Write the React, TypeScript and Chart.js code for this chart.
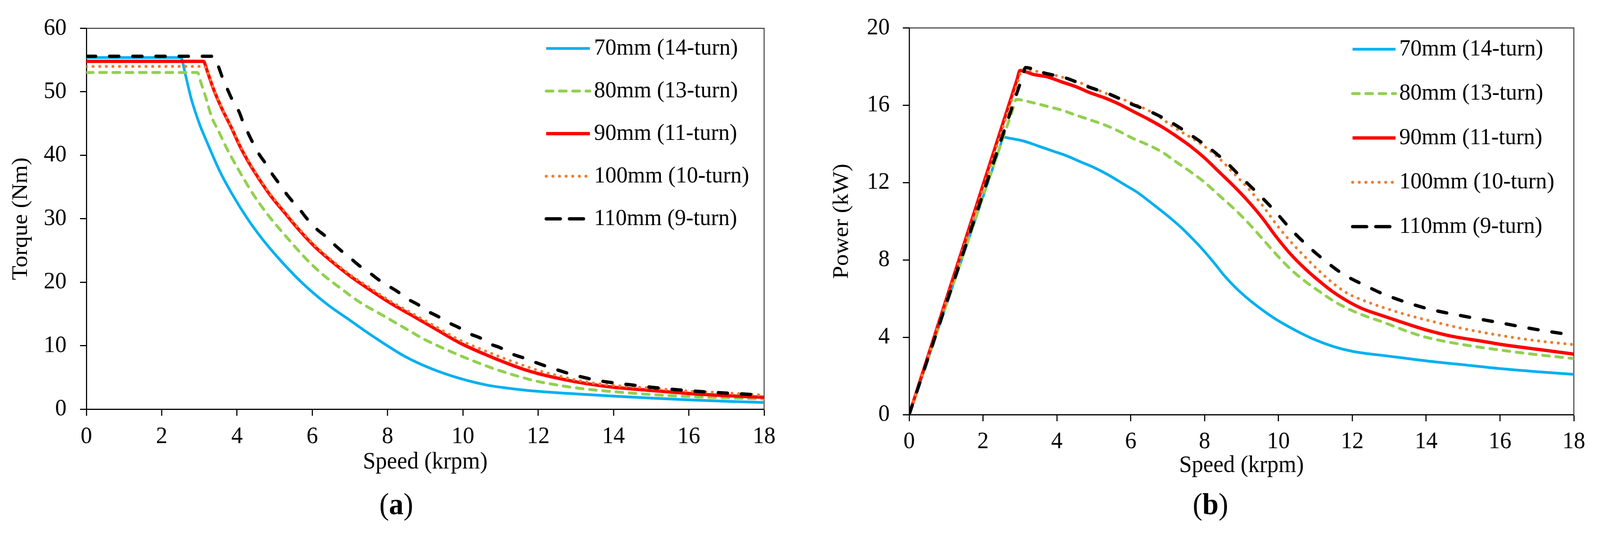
import React, { useEffect, useRef } from "react";
import { Chart, registerables } from "chart.js";

Chart.register(...registerables);

const FONT = "'Liberation Serif', 'Times New Roman', serif";
const FIG_W = 4280;
const FIG_H = 1364;

const seriesLabels = [
  "70mm (14-turn)",
  "80mm (13-turn)",
  "90mm (11-turn)",
  "100mm (10-turn)",
  "110mm (9-turn)",
];

// torque (Nm) vs speed (krpm)
const torque70 = [[0, 55.4], [2.51, 55.4], [2.63, 52.7], [2.79, 48.8], [3.01, 44.85], [3.23, 41.7], [3.55, 37.4], [3.87, 33.9], [4.28, 30.0], [4.66, 26.9], [5.1, 23.8], [5.73, 19.9], [6.4, 16.5], [7.0, 14.0], [7.63, 11.4], [8.46, 8.3], [9.15, 6.4], [9.91, 4.85], [10.67, 3.75], [11.2, 3.3], [11.6, 3.02], [12, 2.8], [13, 2.4], [14, 2.05], [15, 1.74], [16, 1.46], [17, 1.23], [18, 1.05]];
const torque80 = [[0, 53.05], [2.95, 53.05], [3.04, 51.5], [3.17, 49.15], [3.33, 46.0], [3.52, 43.7], [3.71, 41.3], [3.9, 39.2], [4.15, 36.6], [4.47, 33.5], [4.85, 30.4], [5.29, 27.3], [5.8, 23.9], [6.24, 21.4], [6.75, 19.05], [7.25, 16.9], [7.82, 14.95], [8.39, 13.0], [8.96, 11.05], [9.59, 9.3], [10.23, 7.7], [10.86, 6.3], [11.6, 4.95], [12, 4.35], [12.5, 3.8], [13, 3.35], [13.59, 2.96], [14, 2.75], [15, 2.3], [16, 1.98], [17, 1.78], [18, 1.6]];
const torque90 = [[0, 54.8], [3.11, 54.8], [3.2, 53.45], [3.36, 50.7], [3.58, 47.6], [3.84, 44.5], [4.09, 41.3], [4.34, 38.6], [4.59, 36.25], [4.91, 33.5], [5.23, 31.2], [5.61, 28.5], [6.05, 25.7], [6.49, 23.4], [7.0, 21.0], [7.51, 18.9], [8.08, 16.7], [8.65, 14.76], [9.28, 12.6], [9.91, 10.46], [10.54, 8.75], [11.18, 7.2], [11.6, 6.3], [12, 5.6], [12.5, 4.9], [13, 4.3], [13.59, 3.75], [14, 3.45], [15, 2.94], [16, 2.47], [17, 2.12], [18, 1.86]];
const torque100 = [[0, 54.0], [3.13, 54.0], [3.2, 53.4], [3.36, 50.8], [3.58, 47.7], [3.84, 44.6], [4.09, 41.5], [4.34, 38.8], [4.59, 36.4], [4.91, 33.7], [5.23, 31.4], [5.61, 28.7], [6.05, 25.9], [6.49, 23.6], [7.0, 21.2], [7.51, 19.2], [8.08, 17.0], [8.65, 15.1], [9.28, 13.0], [9.91, 10.9], [10.54, 9.3], [11.18, 7.8], [11.6, 6.9], [12, 6.1], [12.5, 5.3], [13, 4.6], [13.59, 4.0], [14, 3.75], [15, 3.3], [16, 2.84], [17, 2.55], [18, 2.2]];
const torque110 = [[0, 55.6], [3.39, 55.6], [3.52, 53.8], [3.61, 52.3], [3.77, 50.1], [3.87, 48.8], [4.06, 46.8], [4.15, 45.4], [4.28, 43.7], [4.41, 42.1], [4.59, 40.15], [4.75, 38.8], [4.94, 37.0], [5.1, 35.7], [5.29, 34.1], [5.48, 32.7], [5.7, 31.2], [5.86, 30.0], [6.11, 28.4], [6.34, 27.3], [6.59, 25.9], [6.78, 24.9], [7.06, 23.55], [7.25, 22.6], [7.54, 21.4], [7.76, 20.4], [8.01, 19.45], [8.27, 18.5], [8.55, 17.3], [8.8, 16.5], [9.09, 15.35], [9.34, 14.6], [9.63, 13.6], [9.91, 12.8], [10.2, 11.83], [10.45, 11.24], [10.73, 10.26], [10.99, 9.68], [11.3, 8.7], [11.6, 8.1], [12, 7.2], [12.5, 6.2], [13, 5.3], [13.6, 4.5], [14, 4.15], [14.5, 3.8], [15, 3.45], [16, 2.9], [17, 2.53], [18, 2.2]];

// power (kW) vs speed (krpm)
const power70 = [[0, 0], [2.45, 13.8], [2.55, 14.35], [2.71, 14.3], [3.1, 14.15], [3.49, 13.9], [3.88, 13.64], [4.26, 13.39], [4.65, 13.07], [5.04, 12.75], [5.42, 12.37], [5.81, 11.92], [6.2, 11.47], [6.59, 10.9], [6.97, 10.33], [7.36, 9.69], [7.62, 9.2], [7.94, 8.56], [8.27, 7.82], [8.52, 7.22], [8.85, 6.55], [9.17, 6.0], [9.56, 5.42], [9.94, 4.92], [10.46, 4.36], [10.98, 3.88], [11.49, 3.52], [12.01, 3.27], [13, 3.02], [14, 2.78], [15, 2.58], [16, 2.38], [17, 2.22], [18, 2.08]];
const power80 = [[0, 0], [2.8, 15.75], [2.9, 16.3], [3.36, 16.13], [3.75, 15.94], [4.13, 15.75], [4.52, 15.49], [4.91, 15.24], [5.3, 14.98], [5.68, 14.66], [6.07, 14.28], [6.46, 13.96], [6.85, 13.58], [7.23, 13.07], [7.62, 12.56], [8.01, 12.0], [8.39, 11.35], [8.78, 10.68], [9.17, 9.94], [9.56, 9.11], [9.94, 8.29], [10.33, 7.52], [10.72, 6.9], [11.11, 6.37], [11.49, 5.88], [11.88, 5.48], [12.27, 5.16], [12.84, 4.78], [13.5, 4.3], [14, 4.0], [15, 3.62], [16, 3.34], [17, 3.1], [18, 2.9]];
const power90 = [[0, 0], [2.92, 17.33], [3.0, 17.8], [3.36, 17.6], [3.75, 17.47], [4.13, 17.21], [4.52, 16.96], [4.91, 16.64], [5.3, 16.38], [5.68, 16.07], [6.07, 15.68], [6.46, 15.3], [6.85, 14.88], [7.23, 14.41], [7.62, 13.88], [8.01, 13.26], [8.39, 12.56], [8.78, 11.84], [9.17, 11.06], [9.56, 10.18], [9.94, 9.2], [10.33, 8.3], [10.72, 7.55], [11.11, 6.9], [11.49, 6.33], [11.88, 5.86], [12.27, 5.48], [12.84, 5.1], [13.5, 4.68], [14, 4.38], [14.7, 4.05], [15.5, 3.8], [16, 3.64], [17, 3.38], [18, 3.13]];
const power100 = [[0, 0], [2.97, 17.38], [3.05, 17.85], [3.55, 17.72], [4.0, 17.53], [4.65, 17.15], [5.3, 16.64], [5.94, 16.19], [6.59, 15.62], [7.23, 14.79], [7.88, 14.03], [8.39, 13.26], [8.78, 12.5], [9.17, 11.73], [9.56, 10.84], [9.94, 9.85], [10.33, 8.95], [10.72, 8.16], [11.11, 7.42], [11.49, 6.78], [11.88, 6.26], [12.27, 5.93], [12.84, 5.54], [13.5, 5.15], [14, 4.9], [15, 4.45], [16, 4.1], [17, 3.82], [18, 3.62]];
const power110 = [[0, 0], [3.07, 17.5], [3.15, 17.95], [3.68, 17.66], [4.26, 17.4], [4.84, 16.96], [5.42, 16.58], [5.94, 16.13], [6.59, 15.62], [7.1, 15.11], [7.62, 14.47], [8.14, 13.77], [8.59, 13.05], [8.98, 12.3], [9.49, 11.35], [9.88, 10.58], [10.33, 9.6], [10.78, 8.75], [11.3, 7.9], [11.75, 7.27], [12.4, 6.63], [12.84, 6.24], [14, 5.5], [15, 5.1], [16, 4.75], [17, 4.4], [18, 4.1]];

const lineStyles = [
  { color: "#00B0F0", width: 7, dash: [] as number[], cap: "butt", legendDash: [] as number[] },
  { color: "#92D050", width: 7.5, dash: [18, 17.5], cap: "round", legendDash: [18, 17.5] },
  { color: "#FF0000", width: 8.5, dash: [], cap: "butt", legendDash: [] },
  { color: "#ED7D31", width: 7.5, dash: [0.5, 17.2], cap: "round", legendDash: [0.5, 17.2] },
  { color: "#000000", width: 8.5, dash: [25, 37], cap: "round", legendDash: [38, 24] },
];

// legend drawn inside the plot area, like the original figure
const insideLegend = {
  id: "insideLegend",
  afterDatasetsDraw(chart: any, _args: any, opts: any) {
    const ctx = chart.ctx;
    ctx.save();
    ctx.font = `60px ${FONT}`;
    ctx.textBaseline = "middle";
    ctx.textAlign = "left";
    chart.data.datasets.forEach((ds: any, i: number) => {
      const y = opts.top + i * opts.step;
      ctx.beginPath();
      ctx.strokeStyle = ds.borderColor;
      ctx.lineWidth = ds.borderWidth;
      ctx.lineCap = ds.borderCapStyle;
      ctx.setLineDash(ds.legendDash);
      ctx.moveTo(opts.x1, y);
      ctx.lineTo(opts.x2, y);
      ctx.stroke();
      ctx.setLineDash([]);
      ctx.fillStyle = "#000";
      ctx.fillText(ds.label, opts.textX, y);
    });
    ctx.restore();
  },
};

// top and right edges of the plot box
const frame = {
  id: "frame",
  beforeDatasetsDraw(chart: any) {
    const { ctx, chartArea } = chart;
    ctx.save();
    ctx.strokeStyle = "#333";
    ctx.lineWidth = 2.5;
    ctx.beginPath();
    ctx.moveTo(chartArea.left, chartArea.top);
    ctx.lineTo(chartArea.right, chartArea.top);
    ctx.lineTo(chartArea.right, chartArea.bottom);
    ctx.stroke();
    ctx.restore();
  },
};

interface PanelProps {
  left: number;
  series: number[][][];
  yTitle: string;
  yMax: number;
  yStep: number;
  yAxisWidth: number;
  xAxisHeight: number;
  padTop: number;
  padRight: number;
  yTickPad: number;
  xTickPad: number;
  yTitlePad: number;
  xTitlePad: number;
  legend: { top: number; step: number; x1: number; x2: number; textX: number };
}

const Panel = (props: PanelProps) => {
  const chartRef = useRef<HTMLCanvasElement>(null);

  useEffect(() => {
    if (!chartRef.current) return;
    const datasets = props.series.map((pts, i) => ({
      label: seriesLabels[i],
      data: pts.map(([x, y]) => ({ x, y })),
      borderColor: lineStyles[i].color,
      backgroundColor: lineStyles[i].color,
      borderWidth: lineStyles[i].width,
      borderDash: lineStyles[i].dash,
      borderCapStyle: lineStyles[i].cap,
      borderJoinStyle: "round",
      legendDash: lineStyles[i].legendDash,
      cubicInterpolationMode: "monotone",
      pointRadius: 0,
      fill: false,
      order: 4 - i,
    }));

    const chart = new Chart(chartRef.current, {
      type: "line",
      data: { datasets } as any,
      options: {
        animation: false,
        responsive: false,
        devicePixelRatio: 1,
        layout: { padding: { top: props.padTop, right: props.padRight, bottom: 0, left: 0 } },
        plugins: {
          legend: { display: false },
          tooltip: { enabled: false },
          insideLegend: props.legend,
        } as any,
        scales: {
          x: {
            type: "linear",
            min: 0,
            max: 18,
            afterFit: (scale: any) => {
              scale.height = props.xAxisHeight;
            },
            ticks: {
              stepSize: 2,
              autoSkip: false,
              maxRotation: 0,
              padding: props.xTickPad,
              color: "#000",
              font: { family: FONT, size: 61 },
            },
            grid: { drawOnChartArea: false, drawTicks: true, tickLength: 17, tickWidth: 3, tickColor: "#000" },
            border: { display: true, color: "#000", width: 3 },
            title: {
              display: true,
              text: "Speed (krpm)",
              color: "#000",
              font: { family: FONT, size: 61 },
              padding: { top: 0, bottom: props.xTitlePad },
            },
          },
          y: {
            min: 0,
            max: props.yMax,
            afterFit: (scale: any) => {
              scale.width = props.yAxisWidth;
            },
            ticks: {
              stepSize: props.yStep,
              padding: props.yTickPad,
              color: "#000",
              font: { family: FONT, size: 61 },
            },
            grid: { drawOnChartArea: false, drawTicks: true, tickLength: 17, tickWidth: 3, tickColor: "#000" },
            border: { display: true, color: "#000", width: 3 },
            title: {
              display: true,
              text: props.yTitle,
              color: "#000",
              font: { family: FONT, size: 60 },
              padding: { top: props.yTitlePad, bottom: 0 },
            },
          },
        },
      } as any,
      plugins: [frame, insideLegend],
    });

    return () => {
      chart.destroy();
    };
  }, []);

  return (
    <canvas
      ref={chartRef}
      width={2140}
      height={1364}
      style={{ position: "absolute", left: props.left, top: 0, width: 2140, height: 1364 }}
    />
  );
};

const panelLabel = (x: number, letter: string) => (
  <div
    style={{
      position: "absolute",
      left: x,
      top: 1290,
      transform: "translate(-50%, -50%)",
      fontFamily: FONT,
      fontSize: 78,
      lineHeight: 1,
      whiteSpace: "nowrap",
      color: "#000",
    }}
  >
    (<b>{letter}</b>)
  </div>
);

export default function App() {
  // the figure is laid out in 4280 x 1364 units and fitted to the viewport
  const vw = typeof window !== "undefined" ? window.innerWidth : FIG_W;
  const vh = typeof window !== "undefined" ? window.innerHeight : FIG_H;
  const sx = vw / FIG_W;
  const sy = vh > 200 ? vh / FIG_H : sx;

  useEffect(() => {
    document.body.style.margin = "0";
    document.body.style.overflow = "hidden";
  }, []);

  return (
    <div
      style={{
        position: "absolute",
        left: 0,
        top: 0,
        width: FIG_W,
        height: FIG_H,
        background: "#fff",
        overflow: "hidden",
        transform: `scale(${sx}, ${sy})`,
        transformOrigin: "0 0",
      }}
    >
      <Panel
        left={0}
        series={[torque70, torque80, torque90, torque100, torque110]}
        yTitle="Torque (Nm)"
        yMax={60}
        yStep={10}
        yAxisWidth={231}
        xAxisHeight={317}
        padTop={68}
        padRight={96}
        yTickPad={36}
        xTickPad={17}
        yTitlePad={20}
        xTitlePad={144}
        legend={{ top: 124, step: 109, x1: 1461, x2: 1578, textX: 1589 }}
      />
      <Panel
        left={2140}
        series={[power70, power80, power90, power100, power110]}
        yTitle="Power (kW)"
        yMax={20}
        yStep={4}
        yAxisWidth={292}
        xAxisHeight={303}
        padTop={61}
        padRight={70}
        yTickPad={35}
        xTickPad={16}
        yTitlePad={76}
        xTitlePad={135}
        legend={{ top: 126, step: 113.5, x1: 1478, x2: 1593, textX: 1603 }}
      />
      {panelLabel(1060, "a")}
      {panelLabel(3238, "b")}
    </div>
  );
}
